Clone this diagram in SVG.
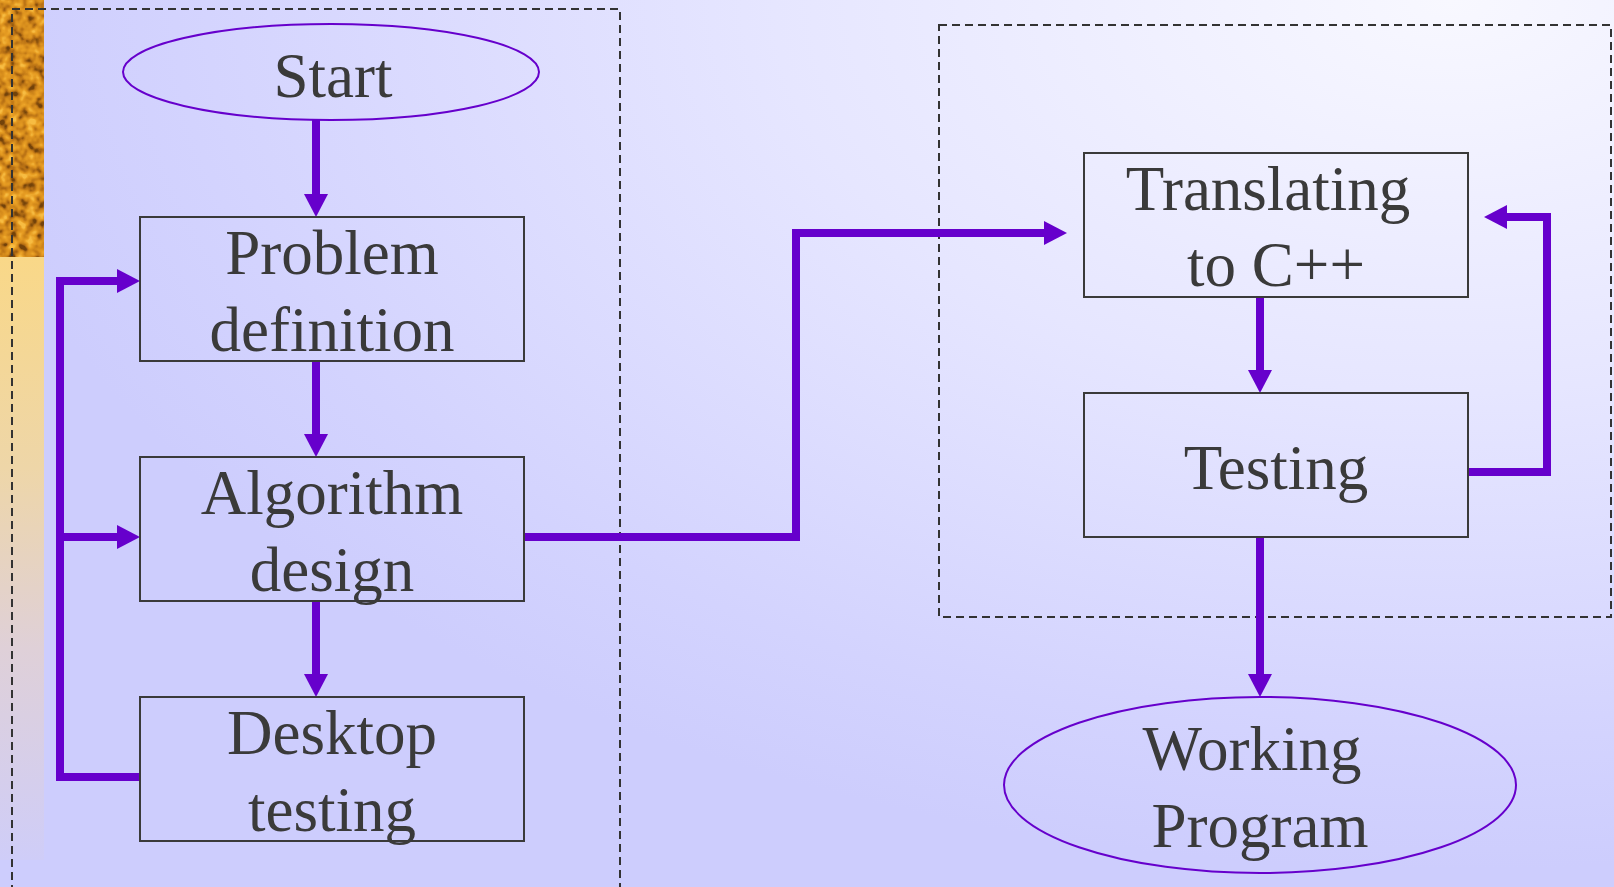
<svg xmlns="http://www.w3.org/2000/svg" width="1614" height="887" viewBox="0 0 1614 887">
  <defs>
    <style>
      .box { fill: none; stroke: #3a3a3a; stroke-width: 2; }
      .term { fill: none; stroke: #6600cc; stroke-width: 2; }
      .frame { fill: none; stroke: #333333; stroke-width: 2; stroke-dasharray: 8 5; }
      .label { font-family: "Liberation Serif", "Times New Roman", serif; font-size: 63px; fill: #3a3a3a; text-anchor: middle; }
      .link { fill: none; stroke: #6600cc; stroke-width: 8; stroke-linejoin: miter; stroke-linecap: butt; }
      .arrow { marker-end: url(#head); }
    </style>
    <radialGradient id="bg" gradientUnits="userSpaceOnUse" cx="1450" cy="0" r="1500" gradientTransform="translate(1450 0) scale(1 0.58) translate(-1450 0)">
      <stop offset="0" stop-color="#f8f8ff"/>
      <stop offset="0.45" stop-color="#e6e6ff"/>
      <stop offset="0.85" stop-color="#d3d3fe"/>
      <stop offset="1" stop-color="#cdcdfd"/>
    </radialGradient>
    <linearGradient id="strip" x1="0" y1="257" x2="0" y2="860" gradientUnits="userSpaceOnUse">
      <stop offset="0" stop-color="#f9d888"/>
      <stop offset="0.35" stop-color="#eed6a8"/>
      <stop offset="0.65" stop-color="#dfd0d8"/>
      <stop offset="1" stop-color="#cfcdf8"/>
    </linearGradient>
    <!-- golden grain texture for the top of the side strip -->
    <filter id="grain" x="0" y="0" width="1" height="1" color-interpolation-filters="sRGB">
      <feTurbulence type="fractalNoise" baseFrequency="0.11" numOctaves="2" seed="7" result="noise"/>
      <feColorMatrix in="noise" type="matrix" values="2 0 0 0 -0.5  2 0 0 0 -0.5  2 0 0 0 -0.5  0 0 0 0 1"/>
      <feComponentTransfer>
        <feFuncR type="table" tableValues="0.45 0.72 0.84 0.91 0.97"/>
        <feFuncG type="table" tableValues="0.26 0.44 0.55 0.62 0.74"/>
        <feFuncB type="table" tableValues="0.04 0.08 0.11 0.14 0.26"/>
      </feComponentTransfer>
    </filter>
    <marker id="head" markerUnits="userSpaceOnUse" markerWidth="23" markerHeight="24" refX="2" refY="12" orient="auto" overflow="visible">
      <path d="M0,0 L23,12 L0,24 Z" fill="#6600cc"/>
    </marker>
  </defs>

  <!-- backdrop -->
  <rect x="0" y="0" width="1614" height="887" fill="url(#bg)"/>
  <rect x="0" y="0" width="44" height="257" fill="#d08a20" filter="url(#grain)"/>
  <rect x="0" y="257" width="44" height="603" fill="url(#strip)"/>

  <!-- dashed grouping frames -->
  <g id="frames">
    <rect class="frame" x="12" y="9" width="608" height="900"/>
    <rect class="frame" x="939" y="25" width="672" height="592"/>
  </g>

  <!-- connectors -->
  <g id="connectors">
    <path class="link arrow" d="M316,119 V196"/>
    <path class="link arrow" d="M316,361 V436"/>
    <path class="link arrow" d="M316,601 V676"/>
    <path class="link arrow" d="M140,777 H60 V281 H119"/>
    <path class="link arrow" d="M60,537 H119"/>
    <path class="link arrow" d="M524,537 H796 V233 H1046"/>
    <path class="link arrow" d="M1260,297 V372"/>
    <path class="link arrow" d="M1468,472 H1547 V217 H1505"/>
    <path class="link arrow" d="M1260,537 V676"/>
  </g>

  <g id="start">
    <ellipse class="term" cx="331" cy="72" rx="208" ry="48"/>
    <text class="label" x="333" y="97">Start</text>
  </g>

  <g id="problem-definition">
    <rect class="box" x="140" y="217" width="384" height="144"/>
    <text class="label" x="332" y="274">Problem</text>
    <text class="label" x="332" y="351">definition</text>
  </g>

  <g id="algorithm-design">
    <rect class="box" x="140" y="457" width="384" height="144"/>
    <text class="label" x="332" y="514">Algorithm</text>
    <text class="label" x="332" y="591">design</text>
  </g>

  <g id="desktop-testing">
    <rect class="box" x="140" y="697" width="384" height="144"/>
    <text class="label" x="332" y="754">Desktop</text>
    <text class="label" x="332" y="831">testing</text>
  </g>

  <g id="translating">
    <rect class="box" x="1084" y="153" width="384" height="144"/>
    <text class="label" x="1268" y="210">Translating</text>
    <text class="label" x="1276" y="286">to C++</text>
  </g>

  <g id="testing">
    <rect class="box" x="1084" y="393" width="384" height="144"/>
    <text class="label" x="1276" y="489">Testing</text>
  </g>

  <g id="working-program">
    <ellipse class="term" cx="1260" cy="785" rx="256" ry="88"/>
    <text class="label" x="1252" y="770">Working</text>
    <text class="label" x="1260" y="847">Program</text>
  </g>
</svg>
